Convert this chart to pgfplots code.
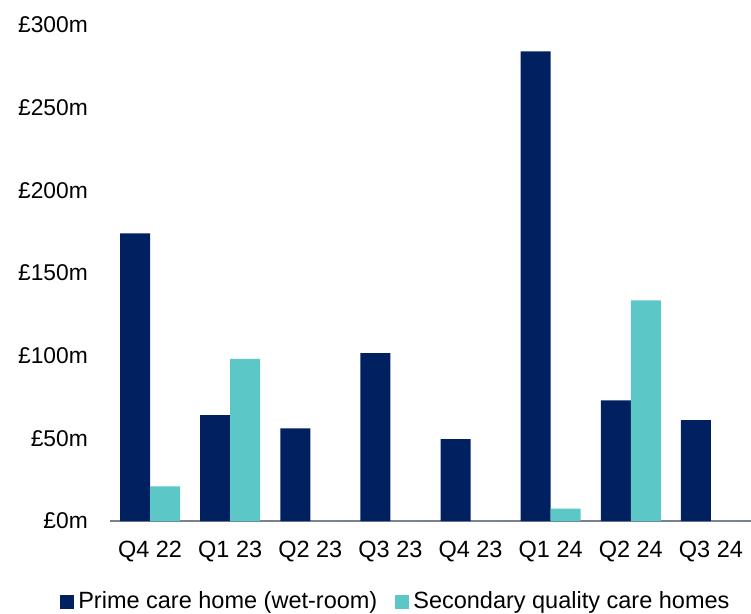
\documentclass[border=0pt]{standalone}
\usepackage{pgfplots}
\pgfplotsset{compat=1.18}
\usepackage{fontspec}
\setmainfont{Liberation Sans}
\definecolor{navy}{RGB}{0,32,96}
\definecolor{teal2}{RGB}{91,200,199}
\definecolor{axgray}{RGB}{120,128,145}
\begin{document}
\fontsize{23.5pt}{28pt}\selectfont
\begin{tikzpicture}
\begin{axis}[
  scale only axis,
  width=641pt, height=496pt,
  ybar=0pt, bar width=30pt,
  xmin=-0.5, xmax=7.5, ymin=0, ymax=300,
  xtick={0,...,7},
  xticklabels={Q4 22,Q1 23,Q2 23,Q3 23,Q4 23,Q1 24,Q2 24,Q3 24},
  ytick={0,50,100,150,200,250,300},
  yticklabels={£0m,£50m,£100m,£150m,£200m,£250m,£300m},
  axis x line*=bottom, axis y line*=left,
  x axis line style={-, draw=axgray, line width=1.2pt},
  y axis line style={draw=none},
  major tick length=0pt,
  xticklabel style={font=\fontsize{23.5pt}{28pt}\selectfont, inner sep=0pt, yshift=-20pt},
  yticklabel style={font=\fontsize{22.8pt}{27pt}\selectfont, inner sep=0pt, xshift=-22pt},
  legend columns=2,
  legend style={draw=none, fill=none, font=\fontsize{23.5pt}{28pt}\selectfont,
    at={(0.446,-0.162)}, anchor=center,
    /tikz/every odd column/.append style={column sep=2pt},
    /tikz/every even column/.append style={column sep=16pt},
    inner sep=0pt},
  legend image code/.code={\fill[#1] (0pt,-8pt) rectangle (14pt,6pt);},
  enlargelimits=false,
  clip=false,
]
\addplot[fill=navy, draw=none] coordinates {(0,174) (1,64) (2,56) (3,101.5) (4,49.5) (5,284) (6,73) (7,61)};
\addplot[fill=teal2, draw=none] coordinates {(0,21) (1,98) (2,0) (3,0) (4,0) (5,7.5) (6,133.5) (7,0)};
\legend{Prime care home (wet-room),Secondary quality care homes}
\end{axis}
\pgfresetboundingbox
\path (current axis.south west) ++(-110pt,-92pt) rectangle ++(751pt,613pt);
\end{tikzpicture}
\end{document}
